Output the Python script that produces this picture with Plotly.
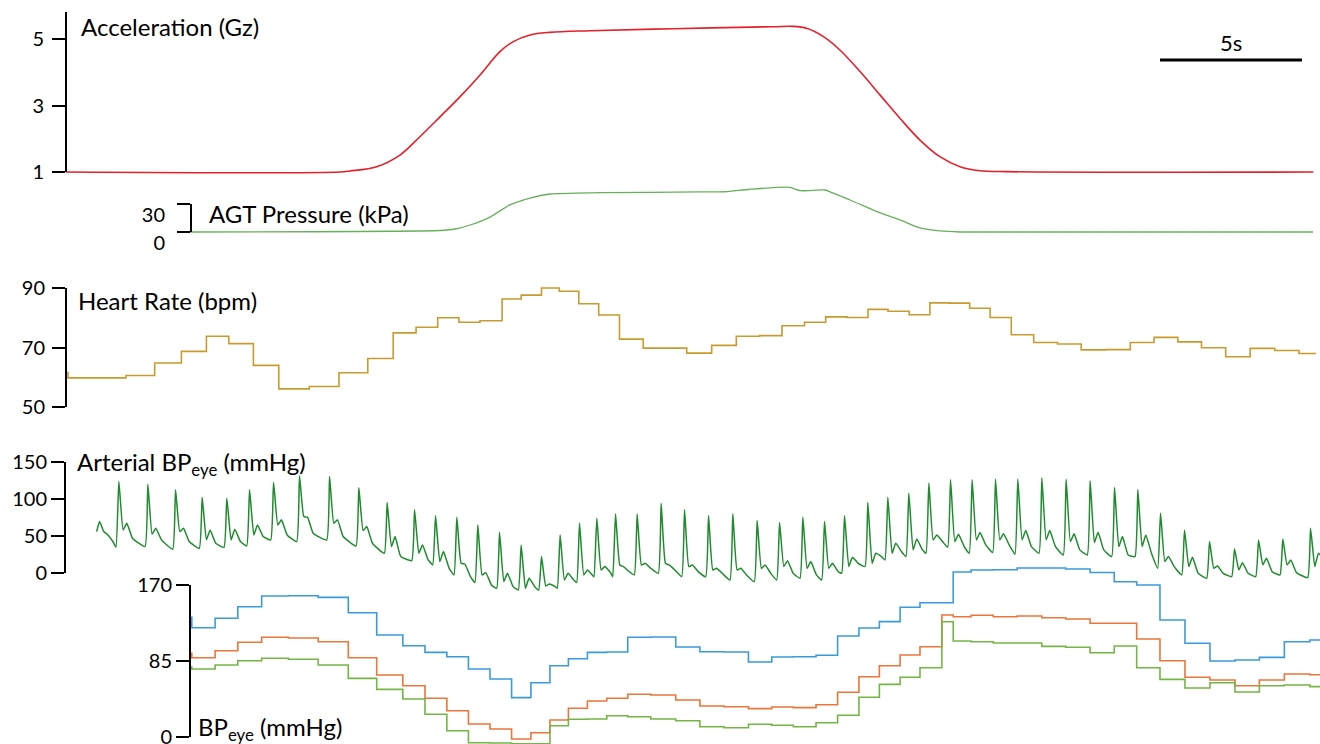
import plotly.graph_objects as go

W, H = 1320, 744
PX_PER_S = 28.4          # horizontal time scale (pixels per second)
T_ORIGIN_PX = 66         # pixel column of t = 0
FONT = "Lato"

# ---------------- data ----------------
# Acceleration (Gz)
acc_t = [0.0, 9.65, 10.00, 10.94, 11.76, 12.46, 13.17, 13.87, 14.58, 15.28, 15.75,
         16.34, 17.04, 18.45, 21.37, 24.89, 25.60, 26.08, 26.67, 27.25, 27.96, 28.66,
         29.37, 30.07, 30.77, 31.48, 32.18, 33.12, 43.92]
acc_g = [1.00, 1.00, 1.03, 1.16, 1.51, 2.06, 2.66, 3.26, 3.92, 4.62, 4.92,
         5.12, 5.20, 5.25, 5.31, 5.37, 5.38, 5.32, 5.07, 4.67, 4.02, 3.32,
         2.61, 1.96, 1.46, 1.16, 1.04, 1.01, 1.00]

# Anti-G trouser pressure (kPa)
agt_t = [4.37, 13.17, 13.70, 14.23, 14.93, 15.63, 16.34, 17.04, 18.80, 22.32, 23.20,
         24.08, 25.49, 25.85, 26.73, 26.97, 27.61, 28.66, 29.37, 30.07, 30.77, 31.48, 43.91]
agt_kpa = [0.0, 1.6, 3.2, 7.5, 16.0, 29.0, 36.4, 40.7, 42.1, 42.9, 43.1,
           45.8, 47.9, 44.3, 45.0, 42.1, 34.3, 20.4, 12.9, 4.3, 1.1, 0.0, 0.0]

# Beat-to-beat heart rate (bpm), one value per beat starting at hr_t
hr_t = [0.000, 0.070, 2.113, 3.123, 4.063, 4.944, 5.732, 6.599, 7.493, 8.567, 9.613,
        10.627, 11.521, 12.327, 13.088, 13.835, 14.577, 15.356, 16.028, 16.743, 17.370,
        18.056, 18.757, 19.489, 20.324, 21.856, 22.736, 23.602, 24.423, 25.211, 26.004,
        26.750, 27.496, 28.239, 28.944, 29.690, 30.419, 31.106, 31.820, 32.539, 33.285,
        34.074, 34.912, 35.746, 36.613, 37.475, 38.313, 39.148, 39.982, 40.835, 41.697,
        42.563, 43.415]
hr_end = 44.014
hr_bpm = [61.6, 59.8, 60.6, 64.8, 68.7, 73.8, 71.3, 64.0, 56.1, 56.9, 61.5,
          66.3, 74.9, 76.8, 80.0, 78.5, 79.0, 86.3, 87.6, 90.0, 88.9,
          84.7, 80.9, 72.8, 69.8, 68.1, 70.7, 73.8, 74.0, 77.3, 78.5,
          80.3, 80.1, 82.8, 82.2, 81.0, 85.0, 84.9, 83.2, 80.1, 74.3,
          71.7, 71.2, 69.2, 69.3, 71.7, 73.4, 71.9, 69.9, 66.9, 69.7,
          69.0, 68.0]

# Arterial pressure at eye level (mmHg): per-beat landmarks
art_onset_t = [1.081, 1.761, 2.782, 3.757, 4.694, 5.563, 6.363, 7.208, 8.123, 9.180,
               10.211, 11.208, 12.173, 12.912, 13.662, 14.401, 15.165, 15.926, 16.644,
               17.299, 17.982, 18.592, 19.250, 20.011, 20.856, 21.680, 22.525, 23.380,
               24.236, 25.025, 25.845, 26.609, 27.313, 28.134, 28.838, 29.577, 30.282,
               31.046, 31.806, 32.630, 33.415, 34.261, 35.116, 35.961, 36.820, 37.641,
               38.440, 39.285, 40.165, 41.046, 41.891, 42.746, 43.722]
art_onset = [56.0, 34.9, 35.8, 32.3, 33.6, 34.9, 36.7, 44.8, 42.6, 44.8, 36.7, 26.9,
             17.0, 11.2, -2.2, -12.5, -20.2, -22.4, -22.4, -20.2, -12.5, -4.5, -4.5,
             -2.2, 0.0, -4.5, -4.5, -9.0, -11.2, -9.0, -6.7, -9.0, 0.0, 9.0, 17.9, 22.4,
             26.9, 34.9, 26.9, 27.8, 25.5, 26.9, 24.6, 24.6, 22.4, 22.4, 6.7, -2.2, -6.7,
             -4.5, -4.5, -2.2, -5.8]
art_systolic = [69.4, 123.2, 119.6, 112.0, 102.1, 100.8, 112.0, 122.3, 130.8, 129.9,
                115.1, 95.0, 85.1, 77.1, 75.3, 64.9, 55.1, 38.1, 22.4, 51.5, 67.2, 73.9,
                79.7, 79.7, 94.1, 85.1, 77.1, 79.7, 70.8, 68.1, 75.3, 69.4, 77.1, 95.0,
                102.1, 107.5, 121.0, 125.4, 125.4, 126.3, 126.3, 127.7, 126.3, 124.1,
                115.1, 112.0, 80.6, 58.2, 42.6, 32.7, 44.8, 46.1, 60.5]
art_notch = [56.0, 58.2, 52.4, 56.0, 44.8, 44.8, 51.5, 64.9, 76.2, 67.2, 57.3, 35.8,
             26.9, 15.7, 13.4, -2.2, -11.2, -20.2, -17.0, -9.0, -2.2, 4.5, 11.2, 11.2,
             13.4, 9.0, 4.5, 4.5, 6.7, 9.0, 6.7, 6.7, 9.0, 13.4, 26.9, 31.4, 44.8, 42.6,
             44.8, 44.8, 44.8, 44.8, 42.6, 41.2, 35.8, 35.8, 15.7, 9.0, 6.7, 4.5, 11.2,
             11.2, 9.0]
art_dicrotic = [52.0, 67.2, 60.5, 60.5, 58.2, 59.1, 64.9, 71.7, 75.3, 71.7, 62.7, 49.3,
                38.1, 29.1, 12.5, 0.9, 0.0, -6.7, -14.3, 0.0, 4.5, 9.0, 9.0, 13.4, 11.2,
                11.2, 6.7, 6.7, 11.2, 17.0, 15.7, 13.4, 21.5, 26.9, 40.3, 46.1, 51.5,
                52.4, 54.7, 52.9, 57.3, 57.3, 52.9, 55.1, 49.3, 51.5, 22.4, 21.5, 9.9,
                14.3, 20.2, 17.9, 26.9]
art_late = [42.0, 47.0, 44.8, 42.6, 40.3, 42.6, 49.3, 51.5, 53.8, 49.3, 40.3, 22.4,
            17.9, 6.7, -4.5, -15.7, -17.9, -17.9, -17.9, -9.0, -3.6, 0.9, 2.2, 6.7, 4.5,
            2.2, 0.0, -2.2, 0.0, 0.0, -2.2, 2.2, 13.4, 22.4, 29.1, 31.4, 42.6, 35.8,
            38.1, 38.1, 35.8, 35.8, 31.4, 31.4, 24.6, 26.9, 9.0, 0.0, 0.0, 0.0, 2.2,
            0.9, 17.9]

# Beat-to-beat eye-level pressure (mmHg): systolic, mean, diastolic
bp_t = [4.37, 4.43, 5.25, 6.05, 6.89, 7.83, 8.88, 9.94, 10.94, 11.86, 12.64, 13.41,
        14.17, 14.93, 15.69, 16.37, 17.04, 17.69, 18.36, 19.04, 19.78, 20.59, 21.47,
        22.32, 23.17, 24.03, 24.85, 25.61, 26.41, 27.17, 27.92, 28.64, 29.37, 30.07,
        30.84, 31.24, 31.87, 32.65, 33.49, 34.36, 35.20, 36.06, 36.91, 37.70, 38.52,
        39.40, 40.28, 41.16, 42.02, 42.90, 43.80]
bp_end = 44.16
bp_sys = [133.9, 122.2, 132.8, 145.7, 157.7, 158.0, 156.2, 139.0, 114.1, 102.1, 94.7,
          89.8, 76.1, 64.9, 44.0, 60.7, 79.7, 87.6, 94.7, 95.1, 111.5, 111.8, 100.7,
          95.4, 95.1, 83.9, 89.5, 89.8, 91.4, 113.0, 121.9, 129.0, 145.1, 150.2, 150.2,
          184.5, 186.8, 187.1, 189.0, 189.0, 187.9, 184.0, 173.7, 170.0, 130.9, 104.8,
          85.0, 86.1, 89.1, 106.6, 108.5]
bp_mean = [93.6, 88.7, 96.5, 105.9, 111.5, 110.7, 106.6, 88.7, 69.3, 57.4, 43.3, 29.4,
           14.5, 8.9, -2.2, 4.8, 19.0, 32.1, 40.3, 43.3, 47.8, 47.0, 41.4, 34.7, 33.9,
           31.7, 33.6, 32.8, 36.1, 50.0, 67.4, 79.7, 91.7, 101.0, 136.4, 134.5, 136.1,
           134.5, 135.3, 133.4, 132.0, 127.2, 127.2, 109.6, 85.3, 66.8, 63.7, 57.4, 63.7,
           70.5, 69.7]
bp_dia = [78.3, 76.1, 80.5, 85.3, 88.0, 86.9, 80.5, 65.6, 53.3, 42.5, 25.4, 7.0, -6.4,
          -6.7, -7.5, -7.5, 12.6, 19.8, 20.1, 23.8, 22.7, 20.1, 18.2, 11.5, 10.4, 14.2,
          13.1, 11.5, 16.0, 24.3, 44.4, 58.9, 66.8, 77.5, 128.9, 107.4, 106.6, 105.1,
          105.1, 101.4, 100.3, 94.3, 101.8, 77.5, 64.5, 54.8, 60.7, 50.3, 57.4, 58.2,
          56.3]

SCALE_BAR_S = 5
SCALE_BAR_START_S = 38.52

# ---------------- helpers ----------------
def px_to_t(px):
    return (px - T_ORIGIN_PX) / PX_PER_S


def lin(v0, p0, v1, p1):
    """value at a pixel row, given two reference (value, row) pairs"""
    return lambda p: v0 + (p - p0) * (v1 - v0) / (p1 - p0)


def dom(top_px, bot_px):
    return [1 - bot_px / H, 1 - top_px / H]


tick_font = dict(family=FONT, size=20, color="black")


def shown_axis(x_px, top_px, bot_px, f, tickvals, standoff=0, shift=0):
    lo, hi = f(bot_px), f(top_px)
    eps = (hi - lo) * 1e-4   # keep end ticks inside the range
    d = dict(domain=dom(top_px, bot_px), range=[lo - eps, hi + eps],
             anchor="free", position=x_px / W, showline=True, linecolor="black",
             linewidth=2, ticks="outside", ticklen=13, tickwidth=2, tickcolor="black",
             tickvals=tickvals, ticktext=[str(v) for v in tickvals], tickfont=tick_font,
             showgrid=False, zeroline=False, fixedrange=True, automargin=False,
             ticklabelstandoff=standoff, ticklabeloverflow="allow")
    if shift:
        d["ticklabelshift"] = shift
    return d


def data_axis(top_px, bot_px, f):
    return dict(domain=dom(top_px, bot_px), range=[f(bot_px), f(top_px)],
                anchor="free", position=0, visible=False, showgrid=False,
                zeroline=False, fixedrange=True, automargin=False)


# vertical scales of each panel
f_acc = lin(1, 172, 5, 39)
f_agt = lin(0, 232, 30, 204)
f_hr = lin(50, 407, 90, 288)
f_art = lin(0, 573.3, 150, 461.5)
f_bpe = lin(0, 737, 170, 585)

fig = go.Figure()


def ghost(yref):
    # empty marker so the axis subplot is created
    fig.add_trace(go.Scatter(x=[0], y=[None], mode="markers", yaxis=yref,
                             marker=dict(opacity=0), showlegend=False, hoverinfo="skip"))


# Acceleration
fig.add_trace(go.Scatter(x=acc_t, y=acc_g, mode="lines", yaxis="y",
                         line=dict(color="#E5202A", width=1.6, shape="spline", smoothing=1.0),
                         showlegend=False))
ghost("y2")
# AGT pressure
fig.add_trace(go.Scatter(x=agt_t, y=agt_kpa, mode="lines", yaxis="y3",
                         line=dict(color="#66B05A", width=1.3, shape="spline", smoothing=0.6),
                         showlegend=False))
ghost("y4")
# Heart rate
fig.add_trace(go.Scatter(x=hr_t + [hr_end], y=hr_bpm + [hr_bpm[-1]], mode="lines",
                         yaxis="y5", line=dict(color="#C99B2E", width=1.6, shape="hv"),
                         showlegend=False))
ghost("y6")
# Arterial pressure waveform
art_x, art_y = [], []
for i, t0 in enumerate(art_onset_t):
    art_x += [t0, t0 + 0.10, t0 + 0.25, t0 + 0.38, t0 + 0.58]
    art_y += [art_onset[i], art_systolic[i], art_notch[i], art_dicrotic[i], art_late[i]]
fig.add_trace(go.Scatter(x=art_x, y=art_y, mode="lines", yaxis="y7",
                         line=dict(color="#1F8B2E", width=1.5, shape="spline", smoothing=0.4),
                         showlegend=False))
ghost("y8")
# Eye-level pressure steps
for vals, col in ((bp_sys, "#3A9BDC"), (bp_mean, "#EC7539"), (bp_dia, "#74B544")):
    fig.add_trace(go.Scatter(x=bp_t + [bp_end], y=vals + [vals[-1]], mode="lines",
                             yaxis="y9", line=dict(color=col, width=1.6, shape="hv"),
                             showlegend=False))
ghost("y10")

fig.update_layout(
    width=W, height=H, margin=dict(l=0, r=0, t=0, b=0, pad=0, autoexpand=False),
    paper_bgcolor="white", plot_bgcolor="rgba(0,0,0,0)",
    xaxis=dict(domain=[0, 1], range=[px_to_t(0), px_to_t(W)], visible=False,
               fixedrange=True, anchor="y", automargin=False),
    yaxis=data_axis(0, 200, f_acc),
    yaxis2=shown_axis(66, 12, 172, f_acc, [1, 3, 5], standoff=4),
    yaxis3=data_axis(176, 244, f_agt),
    yaxis4=shown_axis(191, 204, 232, f_agt, [0, 30], standoff=8, shift=11),
    yaxis5=data_axis(268, 420, f_hr),
    yaxis6=shown_axis(66, 288, 407, f_hr, [50, 70, 90], standoff=3),
    yaxis7=data_axis(440, 605, f_art),
    yaxis8=shown_axis(65, 461.5, 573.3, f_art, [0, 50, 100, 150], standoff=0),
    yaxis9=data_axis(556, 744, f_bpe),
    yaxis10=shown_axis(190, 585, 737, f_bpe, [0, 85, 170], standoff=0),
    showlegend=False,
)

# panel titles
titles = [
    ("Acceleration (Gz)", 79, 27),
    ("AGT Pressure (kPa)", 207, 213),
    ("Heart Rate (bpm)", 76, 300),
    ("Arterial BP<sub>eye</sub> (mmHg)", 75, 463),
    ("BP<sub>eye</sub> (mmHg)", 196, 728),
]
for text, x_px, y_px in titles:
    fig.add_annotation(text=text, x=x_px / W, y=1 - y_px / H, xref="paper", yref="paper",
                       xanchor="left", yanchor="middle", showarrow=False,
                       font=dict(family=FONT, size=24, color="black"))

# time scale bar
fig.add_shape(type="line", xref="x", yref="paper",
              x0=SCALE_BAR_START_S, x1=SCALE_BAR_START_S + SCALE_BAR_S,
              y0=1 - 60 / H, y1=1 - 60 / H, line=dict(color="black", width=3))
fig.add_annotation(text=f"{SCALE_BAR_S}s", x=SCALE_BAR_START_S + SCALE_BAR_S / 2,
                   y=1 - 43 / H, xref="x", yref="paper", showarrow=False,
                   xanchor="center", yanchor="middle",
                   font=dict(family=FONT, size=22, color="black"))

fig.write_html("out.html")
